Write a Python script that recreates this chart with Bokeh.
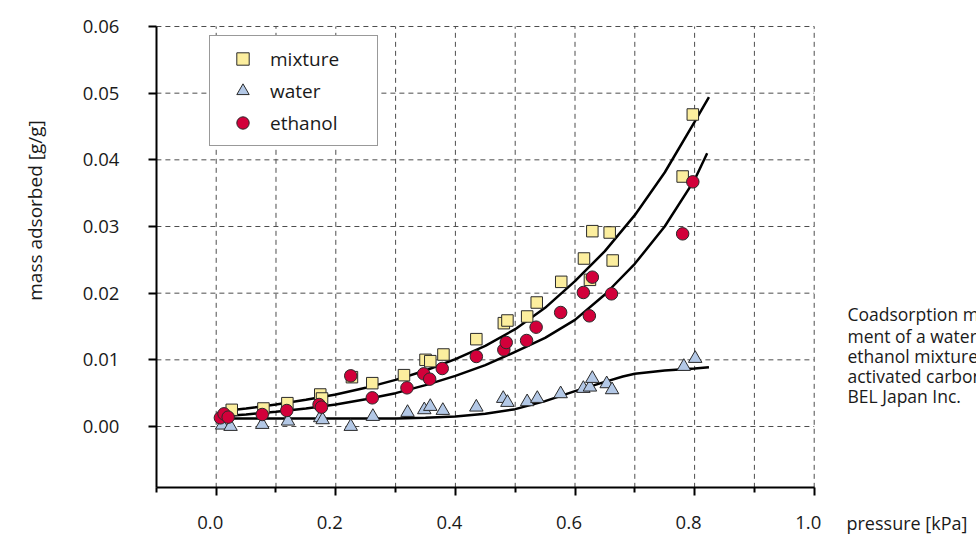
from bokeh.plotting import figure
from bokeh.models import Range1d, FixedTicker, Label, Legend, LegendItem
from bokeh.embed import file_html
from bokeh.resources import INLINE

# ---------------- data ----------------
mix_x = [0.026, 0.079, 0.119, 0.174, 0.177, 0.227, 0.261, 0.314, 0.350, 0.358, 0.380, 0.435,
         0.481, 0.487, 0.520, 0.536, 0.577, 0.615, 0.625, 0.629, 0.658, 0.663, 0.780, 0.797]
mix_y = [0.0025, 0.0027, 0.0035, 0.0048, 0.0042, 0.0074, 0.0065, 0.0077, 0.0100, 0.0098, 0.0108, 0.0131,
         0.0155, 0.0159, 0.0165, 0.0186, 0.0217, 0.0252, 0.0220, 0.0293, 0.0291, 0.0249, 0.0375, 0.0468]

water_x = [0.010, 0.024, 0.077, 0.120, 0.174, 0.178, 0.225, 0.262, 0.320, 0.348, 0.358, 0.379, 0.435,
           0.480, 0.487, 0.520, 0.537, 0.576, 0.614, 0.625, 0.629, 0.653, 0.662, 0.782, 0.801]
water_y = [0.0002, 0.0000, 0.0003, 0.0008, 0.0013, 0.0010, 0.0000, 0.0015, 0.0021, 0.0025, 0.0030, 0.0024, 0.0029,
           0.0042, 0.0036, 0.0037, 0.0042, 0.0049, 0.0057, 0.0059, 0.0072, 0.0064, 0.0055, 0.0090, 0.0102]

eth_x = [0.007, 0.013, 0.020, 0.077, 0.118, 0.172, 0.176, 0.225, 0.261, 0.319, 0.347, 0.357, 0.378,
         0.435, 0.481, 0.485, 0.519, 0.535, 0.576, 0.614, 0.624, 0.629, 0.661, 0.780, 0.797]
eth_y = [0.0013, 0.0019, 0.0014, 0.0018, 0.0024, 0.0033, 0.0029, 0.0076, 0.0043, 0.0058, 0.0079, 0.0071, 0.0087,
         0.0105, 0.0115, 0.0126, 0.0129, 0.0149, 0.0171, 0.0201, 0.0166, 0.0224, 0.0199, 0.0289, 0.0367]

# fitted curves
mix_fit_x = [0.02, 0.05, 0.10, 0.15, 0.20, 0.25, 0.30, 0.35, 0.40, 0.45, 0.50, 0.55, 0.60, 0.65, 0.70, 0.75, 0.80, 0.824]
mix_fit_y = [0.0024, 0.0027, 0.0033, 0.0040, 0.0048, 0.0058, 0.0070, 0.0084, 0.0101, 0.0121, 0.0146, 0.0178,
             0.0218, 0.0263, 0.0317, 0.0381, 0.0457, 0.0494]
eth_fit_x = [0.02, 0.05, 0.10, 0.15, 0.20, 0.25, 0.30, 0.35, 0.40, 0.45, 0.50, 0.55, 0.60, 0.65, 0.70, 0.75, 0.80, 0.821]
eth_fit_y = [0.0016, 0.0018, 0.0022, 0.0027, 0.0033, 0.0041, 0.0050, 0.0062, 0.0076, 0.0092, 0.0112, 0.0133,
             0.0160, 0.0198, 0.0244, 0.0300, 0.0370, 0.0410]
water_fit_x = [0.02, 0.10, 0.20, 0.30, 0.35, 0.40, 0.45, 0.50, 0.55, 0.60, 0.65, 0.68, 0.70, 0.75, 0.80, 0.824]
water_fit_y = [0.0012, 0.0012, 0.0012, 0.0012, 0.0013, 0.0015, 0.0019, 0.0026, 0.0038, 0.0053, 0.0067, 0.0075,
               0.0079, 0.0084, 0.0087, 0.0089]

# axes / grid
x_lim = [-0.1, 1.0]
y_lim = [-0.0092, 0.06]
x_ticks = [0.0, 0.2, 0.4, 0.6, 0.8, 1.0]
x_tick_labels = ["0.0", "0.2", "0.4", "0.6", "0.8", "1.0"]
x_minor = [-0.1, 0.1, 0.3, 0.5, 0.7, 0.9]
x_grid = [0.0, 0.1, 0.2, 0.3, 0.4, 0.5, 0.6, 0.7, 0.8, 0.9, 1.0]
y_ticks = [0.0, 0.01, 0.02, 0.03, 0.04, 0.05, 0.06]
y_tick_labels = ["0.00", "0.01", "0.02", "0.03", "0.04", "0.05", "0.06"]

series_names = ["mixture", "water", "ethanol"]
x_title = "pressure [kPa]"
y_title = "mass adsorbed [g/g]"
caption_lines = ["Coadsorption measure-", "ment of a water-", "ethanol mixture on",
                 "activated carbon.", "BEL Japan Inc."]
caption_y = [0.0169, 0.01365, 0.01065, 0.00765, 0.00465]
label_row_y = -0.0144   # level of the x tick labels and of the x title

FONT = "Open Sans"
TXT = "#1a1a1a"
W, H = 976, 534

# the frame fills the whole canvas; the axes are pinned at the data limits
p = figure(width=W, height=H, x_range=Range1d(-0.3607, 1.2714), y_range=Range1d(-0.0162, 0.0639),
           output_backend="svg", toolbar_location=None,
           min_border_left=0, min_border_right=0, min_border_top=0, min_border_bottom=0,
           background_fill_color="white", border_fill_color="white")
p.outline_line_color = None
p.xgrid.visible = False
p.ygrid.visible = False

xa, ya = p.xaxis[0], p.yaxis[0]
xa.fixed_location = y_lim[0]
ya.fixed_location = x_lim[0]
xa.bounds = (x_lim[0], x_lim[1])
ya.bounds = (y_lim[0], y_lim[1])
for ax in (xa, ya):
    ax.axis_line_width = 2
    ax.axis_line_color = "black"
    ax.major_tick_line_color = "black"
    ax.major_tick_line_width = 2
    ax.major_tick_in = 0
    ax.major_tick_out = 8
    ax.major_label_text_font = FONT
    ax.major_label_text_font_size = "18.5px"
    ax.major_label_text_color = TXT

xa.ticker = FixedTicker(ticks=x_ticks, minor_ticks=x_minor)
xa.minor_tick_line_color = "black"
xa.minor_tick_line_width = 2
xa.minor_tick_in = 0
xa.minor_tick_out = 5
xa.major_label_text_color = None   # x tick labels are set slightly left of their ticks below

ya.ticker = FixedTicker(ticks=y_ticks)
ya.major_label_overrides = dict(zip(y_ticks, y_tick_labels))
ya.minor_tick_line_color = None
ya.major_label_standoff = 29

for xv, lab in zip(x_ticks, x_tick_labels):
    p.add_layout(Label(x=xv, y=label_row_y, x_offset=-6, text=lab, text_align="center",
                       text_baseline="middle", text_font=FONT, text_font_size="18.5px", text_color=TXT))

# dashed grid, limited to the axes box
grid_style = dict(line_color="#4d4d4d", line_dash="5 4", line_width=1)
p.segment(x0=x_grid, y0=[y_lim[0]] * len(x_grid), x1=x_grid, y1=[y_lim[1]] * len(x_grid), **grid_style)
p.segment(x0=[x_lim[0]] * len(y_ticks), y0=y_ticks, x1=[x_lim[1]] * len(y_ticks), y1=y_ticks, **grid_style)

# curves
p.line(mix_fit_x, mix_fit_y, line_color="black", line_width=2.5)
p.line(eth_fit_x, eth_fit_y, line_color="black", line_width=2.5)
p.line(water_fit_x, water_fit_y, line_color="black", line_width=2.5)

# markers
r_mix = p.scatter(mix_x, mix_y, marker="square", size=11.5, fill_color="#FCEE9E",
                  line_color="#2a2a2a", line_width=1)
r_wat = p.scatter(water_x, water_y, marker="triangle", size=13.5, fill_color="#B3C8E6",
                  line_color="#2a2a2a", line_width=1)
r_eth = p.scatter(eth_x, eth_y, marker="circle", size=12.5, fill_color="#D2003A",
                  line_color="#2a2a2a", line_width=1)

legend = Legend(items=[LegendItem(label=series_names[0], renderers=[r_mix]),
                       LegendItem(label=series_names[1], renderers=[r_wat]),
                       LegendItem(label=series_names[2], renderers=[r_eth])],
                location=(209, 388), margin=0, padding=7, spacing=1,
                glyph_width=51, glyph_height=31, label_height=31, label_width=100,
                label_standoff=2, border_line_color="#333333", border_line_width=1,
                label_text_font=FONT, label_text_font_size="19px", label_text_color=TXT,
                background_fill_color="white", background_fill_alpha=1)
p.add_layout(legend)

# titles and caption
p.add_layout(Label(x=-0.3022, y=0.0324, text=y_title, angle=1.5708, text_align="center",
                   text_baseline="middle", text_font=FONT, text_font_size="19px", text_color=TXT))
p.add_layout(Label(x=1.054, y=label_row_y, text=x_title, text_align="left",
                   text_baseline="middle", text_font=FONT, text_font_size="18px", text_color=TXT))
for line, yy in zip(caption_lines, caption_y):
    p.add_layout(Label(x=1.0557, y=yy, text=line, text_align="left",
                       text_baseline="middle", text_font=FONT, text_font_size="17.5px", text_color=TXT))

open("out.html", "w").write(file_html(p, INLINE))
